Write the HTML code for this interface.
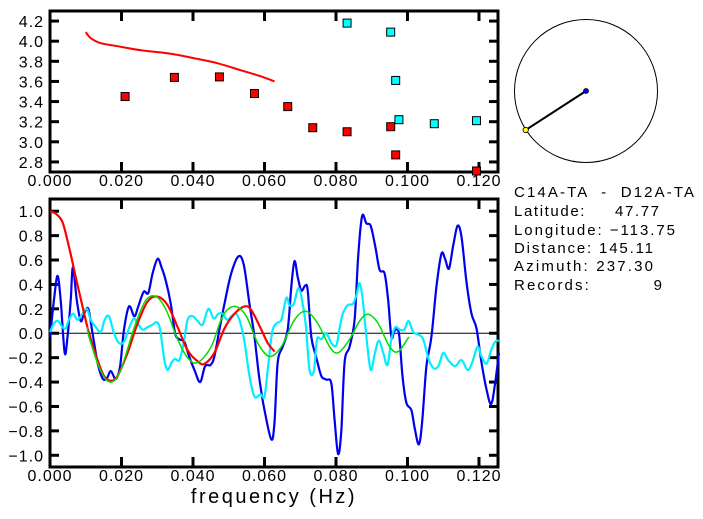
<!DOCTYPE html>
<html><head><meta charset="utf-8"><style>
body{margin:0;background:#fff;}
svg{display:block;font-family:"Liberation Sans",sans-serif;}
.tl{font-size:16px;letter-spacing:1px;fill:#000;}
.info{font-family:"Liberation Sans",sans-serif;font-size:15px;fill:#000;white-space:pre;}
</style></head><body>
<svg id="chart" width="703" height="519" viewBox="0 0 703 519" xmlns="http://www.w3.org/2000/svg">
<g id="top"></g>
<g id="bot"></g>
<g>
<circle cx="586" cy="91" r="71.5" fill="none" stroke="#000" stroke-width="1"/>
<line x1="586" y1="91" x2="525.7" y2="130" stroke="#000" stroke-width="2"/>
<circle cx="586" cy="91" r="2.5" fill="#0000ff" stroke="#000" stroke-width="0.8"/>
<circle cx="525.7" cy="130" r="2.7" fill="#ffff00" stroke="#000" stroke-width="0.8"/>
</g>
<g>
<text class="info" x="514" y="197" textLength="180">C14A-TA  -  D12A-TA</text>
<text class="info" x="514" y="216" textLength="145">Latitude:     47.77</text>
<text class="info" x="514" y="235" textLength="161">Longitude: −113.75</text>
<text class="info" x="514" y="253" textLength="139">Distance: 145.11</text>
<text class="info" x="514" y="271" textLength="139">Azimuth: 237.30</text>
<text class="info" x="514" y="290" textLength="148">Records:          9</text>
</g>
<text x="274" y="503" text-anchor="middle" font-size="20" letter-spacing="2.5">frequency (Hz)</text>
</svg>
<script>
// ---- top panel data ----
const topLineF=[0.010,0.0114,0.0142,0.0189,0.0254,0.0329,0.0404,0.0469,0.0535,0.0591,0.0628];
const topLineV=[4.09,4.03,3.98,3.95,3.91,3.88,3.83,3.78,3.71,3.65,3.60];
const redPtF=[0.021,0.0348,0.0474,0.0572,0.0665,0.0735,0.0831,0.0953,0.0967,0.1193];
const redPtV=[3.45,3.64,3.645,3.48,3.35,3.14,3.10,3.15,2.87,2.71];
const cyanPtF=[0.0831,0.0953,0.0967,0.0976,0.1075,0.1193];
const cyanPtV=[4.18,4.09,3.61,3.22,3.18,3.21];
const topYTicks=[2.8,3.0,3.2,3.4,3.6,3.8,4.0,4.2];
const xTicks=[0,0.02,0.04,0.06,0.08,0.10,0.12];
const xTickLabels=["0.000","0.020","0.040","0.060","0.080","0.100","0.120"];
// ---- bottom panel data ----
const botYTicks=[-1.0,-0.8,-0.6,-0.4,-0.2,0.0,0.2,0.4,0.6,0.8,1.0];
const blueF=[0,.0011,.0021,.003,.0041,.0049,.0058,.0064,.0075,.0086,.0095,.0107,.0119,.0133,.0147,.0159,.017,.0184,.0196,.0207,.0221,.0236,.0247,.0262,.0275,.0287,.0301,.0312,.0324,.0338,.035,.0362,.0376,.0388,.0404,.042,.0434,.0449,.046,.0474,.049,.0507,.0527,.0542,.0558,.0572,.0586,.06,.0619,.0628,.0637,.0651,.0665,.0675,.0684,.0693,.0703,.0714,.0721,.0731,.0745,.0759,.0773,.0787,.0796,.0806,.0815,.0824,.0838,.0852,.0862,.0873,.0885,.0897,.091,.0922,.0936,.0946,.0955,.0964,.0976,.0986,.0997,.1011,.1021,.1032,.1041,.1053,.1067,.1081,.1095,.1105,.1116,.1128,.114,.1151,.1165,.1179,.1193,.1207,.1221,.1234,.1245,.1256];
const blueV=[-.03,.27,.47,.27,-.16,-.03,.27,.54,.27,.1,.16,.2,0,-.24,-.37,-.37,-.31,-.375,-.27,.03,.22,.14,.22,.34,.33,.49,.61,.54,.43,.24,0,-.05,-.07,-.18,-.3,-.40,-.27,-.26,-.19,.03,.27,.49,.63,.56,.24,-.03,-.38,-.63,-.87,-.73,-.24,-.11,.03,.38,.59,.46,.35,.39,.35,-.03,-.2,-.35,-.38,-.41,-.71,-.99,-.79,-.24,-.11,.11,.63,.96,.9,.88,.71,.52,.49,.27,-.03,.02,0,-.35,-.57,-.63,-.79,-.91,-.73,-.27,-.03,.38,.65,.61,.53,.72,.88,.79,.42,.16,.04,-.24,-.46,-.58,-.41,-.16];
const cyanF=[0,.0011,.0022,.0035,.0044,.0053,.0065,.0077,.0091,.0103,.0114,.0128,.0142,.0153,.0165,.0179,.0193,.0207,.0221,.0234,.0245,.0259,.0273,.0287,.0299,.0308,.032,.0329,.034,.035,.0362,.0374,.0385,.0399,.0413,.0427,.0443,.0458,.0471,.0483,.0495,.0508,.0521,.0533,.0544,.0558,.0572,.0589,.06,.0609,.0621,.0633,.0647,.0661,.067,.0682,.0695,.0707,.0716,.0726,.0738,.0747,.0759,.0773,.0787,.0801,.081,.0819,.0833,.0847,.0857,.0866,.0875,.0885,.0897,.0909,.092,.0932,.0944,.0955,.0966,.0978,.0991,.1003,.1016,.103,.1044,.106,.1075,.1088,.11,.1114,.1133,.1151,.1168,.1181,.1196,.1207,.1221,.1234,.1245,.1256];
const cyanV=[.01,.08,.1,.05,.04,.11,.16,.11,.16,.2,.11,.05,.01,.11,.14,0,-.08,-.07,.04,.12,.08,.03,.05,.07,.09,.03,-.22,-.3,-.24,-.21,-.22,-.08,.11,.14,.1,.07,.2,.12,.16,.16,.11,.14,.16,.08,-.07,-.35,-.52,-.5,-.52,-.3,0,.08,.11,.29,.23,.24,.37,.24,.05,-.3,-.31,-.05,-.05,0,-.08,-.1,.04,.16,.23,.24,.31,.41,.27,-.03,-.3,-.16,-.06,-.16,-.26,-.05,.05,.03,.03,.1,.01,-.01,-.05,-.22,-.29,-.26,-.16,-.22,-.27,-.22,-.30,-.24,-.11,-.19,-.25,-.14,-.07,-.06];
const redF=[0,.0016,.0035,.0053,.0072,.0091,.0109,.0133,.0151,.017,.0189,.0217,.0245,.0273,.0301,.0329,.0357,.0385,.0413,.0432,.046,.0488,.0516,.0544,.0563,.0591,.0609,.0628];
const redV=[1.0,.98,.91,.71,.46,.22,0,-.22,-.35,-.39,-.35,-.16,.08,.26,.30,.23,.05,-.14,-.23,-.25,-.16,.04,.16,.22,.19,.03,-.08,-.15];
const greenF=[.0105,.0109,.0142,.017,.0198,.0236,.0268,.0297,.0325,.0357,.0385,.0413,.0451,.0483,.0516,.0549,.0581,.0614,.0647,.0684,.0716,.0749,.0782,.0806,.0838,.0866,.089,.0918,.095,.0974,.1004];
const greenV=[.05,-.03,-.31,-.4,-.3,.05,.27,.30,.19,-.05,-.2,-.24,-.11,.14,.22,.14,-.08,-.19,-.11,.11,.18,.08,-.11,-.16,-.05,.1,.155,.08,-.11,-.15,-.03];

const NS="http://www.w3.org/2000/svg";
function mk(parent,tag,attrs){const e=document.createElementNS(NS,tag);for(const k in attrs)e.setAttribute(k,attrs[k]);parent.appendChild(e);return e;}
const X0=50,X1=498,F0=0,F1=0.12532;
function xs(f){return X0+(f-F0)/(F1-F0)*(X1-X0);}

function axes(g,y0,y1,vmin,vmax,yTicks,yDec,name){
  const ys=v=>y1-(v-vmin)/(vmax-vmin)*(y1-y0);
  const fr=mk(g,'rect',{x:X0,y:y0,width:X1-X0,height:y1-y0,fill:'none',stroke:'#000','stroke-width':3});
  
  
  yTicks.forEach(v=>{
    const y=ys(v);
    mk(g,'line',{x1:X0,x2:X0+9,y1:y,y2:y,stroke:'#000','stroke-width':3});
    mk(g,'line',{x1:X1-9,x2:X1,y1:y,y2:y,stroke:'#000','stroke-width':3});
    const t=mk(g,'text',{x:X0-6,y:y+6,'text-anchor':'end',class:'tl'});
    
    
    t.textContent=(v<0?'\u2212':'')+Math.abs(v).toFixed(yDec);
  });
  xTicks.forEach((f,i)=>{
    const x=xs(f);
    if(i>0){
      mk(g,'line',{x1:x,x2:x,y1:y0,y2:y0+10,stroke:'#000','stroke-width':3});
      mk(g,'line',{x1:x,x2:x,y1:y1-10,y2:y1,stroke:'#000','stroke-width':3});
    }
    const t=mk(g,'text',{x:x,y:y1+14,'text-anchor':'middle',class:'tl'});
    
    
    t.textContent=xTickLabels[i];
  });
  return ys;
}
function line(g,F,V,ys,color,w,name){
  const P=F.map((f,i)=>[xs(f),ys(V[i])]);
  let d='M'+P[0][0].toFixed(1)+','+P[0][1].toFixed(1);
  for(let i=0;i<P.length-1;i++){
    const p0=P[Math.max(0,i-1)],p1=P[i],p2=P[i+1],p3=P[Math.min(P.length-1,i+2)];
    const c1=[p1[0]+(p2[0]-p0[0])/6,p1[1]+(p2[1]-p0[1])/6];
    const c2=[p2[0]-(p3[0]-p1[0])/6,p2[1]-(p3[1]-p1[1])/6];
    d+=' C'+c1[0].toFixed(1)+','+c1[1].toFixed(1)+' '+c2[0].toFixed(1)+','+c2[1].toFixed(1)+' '+p2[0].toFixed(1)+','+p2[1].toFixed(1);
  }
  const e=mk(g,'path',{d:d,fill:'none',stroke:color,'stroke-width':w,'stroke-linejoin':'round'});
  
  
}
// top panel
const gt=document.getElementById('top');
const ysT=axes(gt,11,172,2.70,4.30,topYTicks,1,'top');
line(gt,topLineF,topLineV,ysT,'#ff0000',2,'model-dispersion-curve');
function squares(F,V,color,name){
  F.forEach((f,i)=>{
    const r=mk(gt,'rect',{x:xs(f)-4,y:ysT(V[i])-4,width:8,height:8,fill:color,stroke:'#000','stroke-width':1});
    
    
  });
}
squares(redPtF,redPtV,'#ff0000','red-velocity-point');
squares(cyanPtF,cyanPtV,'#00ffff','cyan-velocity-point');
// bottom panel
const gb=document.getElementById('bot');
const ysB=axes(gb,199,467,-1.096,1.10,botYTicks,1,'bottom');
const zl=mk(gb,'line',{x1:X0,x2:X1,y1:ysB(0),y2:ysB(0),stroke:'#000','stroke-width':1});


line(gb,blueF,blueV,ysB,'#0000ee',2.2,'real-correlation-line');
line(gb,cyanF,cyanV,ysB,'#00eeff',2.2,'imag-correlation-line');
line(gb,redF,redV,ysB,'#ff0000',2.2,'bessel-fit-line');
line(gb,greenF,greenV,ysB,'#00dd00',1.5,'model-bessel-line');
</script>
</body></html>
